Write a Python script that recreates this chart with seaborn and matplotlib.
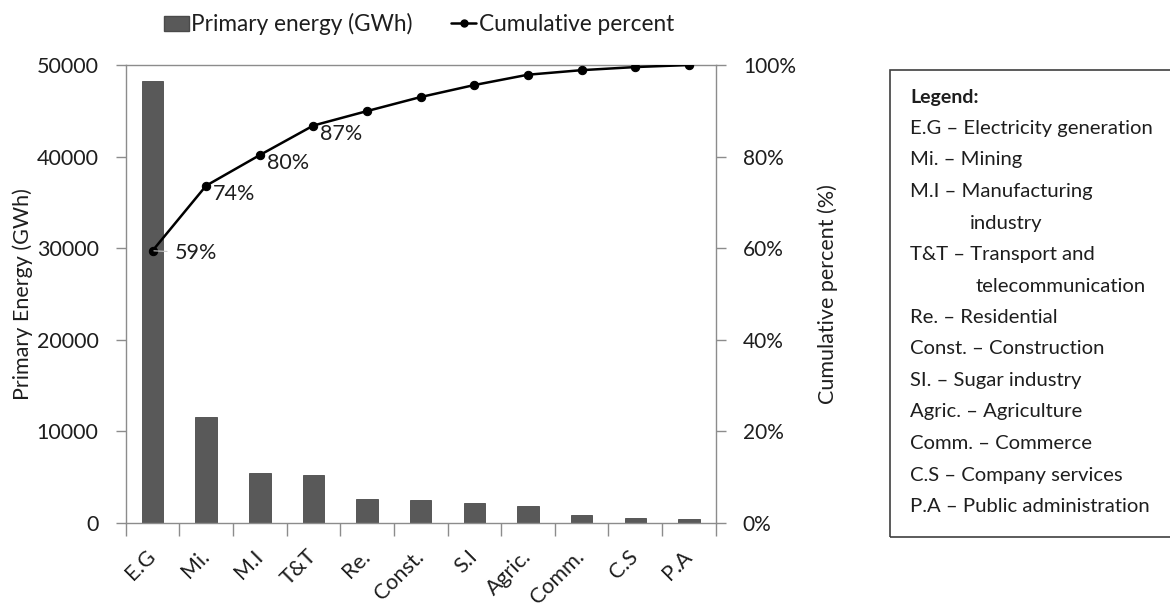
import numpy as np
import pandas as pd
import matplotlib.pyplot as plt
import seaborn as sns
from matplotlib.patches import Rectangle, Patch
from matplotlib.lines import Line2D

# ---------------------------
# Data
# ---------------------------
sectors = ["E.G", "Mi.", "M.I", "T&T", "Re.", "Const.", "S.I", "Agric.", "Comm.", "C.S", "P.A"]
energy_gwh = [48200, 11540, 5420, 5240, 2560, 2490, 2125, 1830, 805, 550, 366]
n_labelled = 4  # only the first four cumulative points carry a % label

key_title = "Legend:"
key_lines = ["E.G – Electricity generation", "Mi. – Mining", "M.I – Manufacturing", "industry",
             "T&T – Transport and", "telecommunication", "Re. – Residential",
             "Const. – Construction", "SI. – Sugar industry", "Agric. – Agriculture",
             "Comm. – Commerce", "C.S – Company services", "P.A – Public administration"]

y_left_ticks = [0, 10000, 20000, 30000, 40000, 50000]
y_right_ticks = [0, 20, 40, 60, 80, 100]

df = pd.DataFrame({"sector": sectors, "energy": energy_gwh})
df["cum_pct"] = df["energy"].cumsum() / df["energy"].sum() * 100

# ---------------------------
# Style
# ---------------------------
sns.set_theme(style="white")
plt.rcParams["font.family"] = ["Lato", "DejaVu Sans"]
TXT = "#1e1e1e"
AXC = "#8c8c8c"
W, H = 1170, 606

fig = plt.figure(figsize=(W / 100, H / 100), dpi=100)
ax = fig.add_axes([125.7 / W, 1 - 522.7 / H, 590 / W, 457.7 / H])

sns.barplot(data=df, x="sector", y="energy", color="#595959", saturation=1,
            width=0.4, edgecolor="#4a4a4a", linewidth=0.6, ax=ax)
ax.set_xlim(-0.5, 10.5)
ax.set_ylim(0, 50000)
ax.set_xlabel("")
ax.set_ylabel("Primary Energy (GWh)", fontsize=15.5, color=TXT)
ax.yaxis.set_label_coords(-0.157, 0.5)

# category boundaries as major ticks, names on minor ticks
ax.set_xticks(np.arange(-0.5, 11, 1))
ax.set_xticklabels([])
ax.set_xticks(np.arange(len(sectors)), sectors, minor=True)
ax.tick_params(axis="x", which="major", length=9, width=1, color=AXC, bottom=True)
ax.tick_params(axis="x", which="minor", length=0, labelsize=15.5, labelcolor=TXT, pad=22)
for lbl in ax.get_xticklabels(minor=True):
    lbl.set_rotation(45)
    lbl.set_ha("right")
    lbl.set_va("center")
    lbl.set_rotation_mode("anchor")

ax.set_yticks(y_left_ticks)
ax.set_yticklabels([str(v) for v in y_left_ticks])
ax.tick_params(axis="y", length=7.5, width=1, color=AXC, labelsize=15.5, labelcolor=TXT, pad=12, left=True)
for s in ["left", "bottom", "top"]:
    ax.spines[s].set_color(AXC)
    ax.spines[s].set_linewidth(1)
ax.spines["right"].set_visible(False)

# cumulative percent on the twin axis
ax2 = ax.twinx()
sns.lineplot(x=np.arange(len(sectors)), y=df["cum_pct"].values, ax=ax2, color="black",
             lw=1.8, marker="o", markersize=6, markeredgecolor="black")
ax2.set_ylim(0, 100)
ax2.set_yticks(y_right_ticks)
ax2.set_yticklabels([f"{v}%" for v in y_right_ticks])
ax2.tick_params(axis="y", length=7.5, width=1, color=AXC, labelsize=15, labelcolor=TXT, pad=12, right=True)
ax2.set_ylabel("Cumulative percent (%)", fontsize=15.5, color=TXT)
ax2.yaxis.set_label_coords(1.172, 0.5)
for s in ["left", "bottom", "top"]:
    ax2.spines[s].set_visible(False)
ax2.spines["right"].set_color(AXC)
ax2.spines["right"].set_linewidth(1)

for i in range(n_labelled):
    v = df["cum_pct"].iloc[i]
    if i == 0:
        ax2.annotate(f"{v:.0f}%", (i, v), xytext=(22, -2), textcoords="offset pixels",
                     ha="left", va="center", fontsize=15.5, color=TXT,
                     arrowprops=dict(arrowstyle="-", color="#c8c8c8", lw=0.8, shrinkA=3, shrinkB=1))
    else:
        ax2.annotate(f"{v:.0f}%", (i, v), xytext=(7, -8), textcoords="offset pixels",
                     ha="left", va="center", fontsize=15.5, color=TXT)

# top legend
handles = [Patch(facecolor="#595959", edgecolor="#4a4a4a", label="Primary energy (GWh)"),
           Line2D([0], [0], color="black", lw=1.8, marker="o", markersize=5, label="Cumulative percent")]
fig.legend(handles=handles, loc="center", bbox_to_anchor=(419 / W, 1 - 24 / H), ncol=2,
           frameon=False, fontsize=16.3, handlelength=1.1, handleheight=0.65,
           handletextpad=0.12, columnspacing=1.7, labelcolor=TXT)

# abbreviation key box (right edge runs off the canvas as in the source)
fig.add_artist(Rectangle((890 / W, 1 - 537 / H), (1180 - 890) / W, (537 - 70) / H,
                         transform=fig.transFigure, fill=False, edgecolor="#404040", lw=1.2))
x0, y0, step = 910, 97, 31.5
wrapped = {"industry": 60, "telecommunication": 66}
fig.text(x0 / W, 1 - y0 / H, key_title, fontsize=14, fontweight="bold", color=TXT, ha="left", va="center")
for k, line in enumerate(key_lines):
    fig.text((x0 + wrapped.get(line, 0)) / W, 1 - (y0 + (k + 1) * step) / H, line,
             fontsize=14.6, color=TXT, ha="left", va="center")

fig.savefig("out.png", dpi=100)
